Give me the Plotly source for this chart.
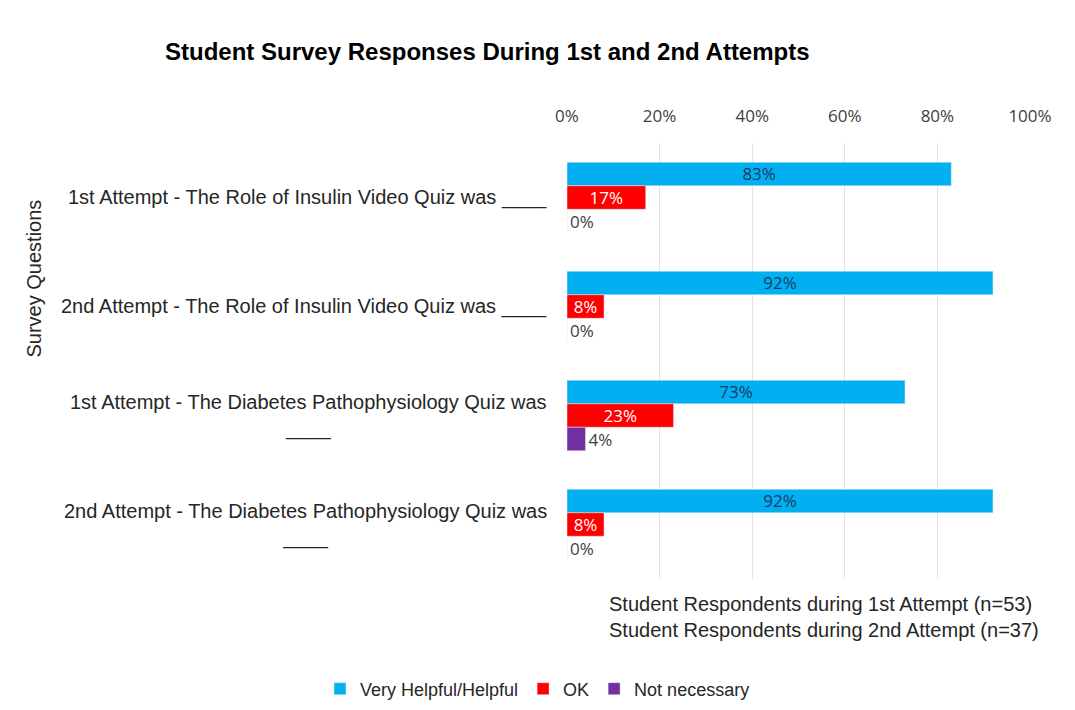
import plotly.graph_objects as go

categories = [
    "1st Attempt - The Role of Insulin Video Quiz was ____",
    "2nd Attempt - The Role of Insulin Video Quiz was ____",
    "1st Attempt - The Diabetes Pathophysiology Quiz was<br>____",
    "2nd Attempt - The Diabetes Pathophysiology Quiz was<br>____",
]
very_helpful = [0.83, 0.92, 0.73, 0.92]
ok = [0.17, 0.08, 0.23, 0.08]
not_necessary = [0.0, 0.0, 0.04, 0.0]
x_ticks = [0, 0.2, 0.4, 0.6, 0.8, 1.0]
x_tick_labels = ["0%", "20%", "40%", "60%", "80%", "100%"]

label_font = "Open Sans"
arial = "Liberation Sans, Arial"

fig = go.Figure()
fig.add_trace(go.Bar(
    y=categories, x=very_helpful, orientation="h", name="Very Helpful/Helpful",
    marker_color="#00B0F0", texttemplate="%{x:.0%}", textposition="inside",
    insidetextanchor="middle", constraintext="none",
    textfont=dict(family=label_font, size=17, color="#1F3864"),
))
fig.add_trace(go.Bar(
    y=categories, x=ok, orientation="h", name="OK",
    marker_color="#FF0000", texttemplate="%{x:.0%}", textposition="inside",
    insidetextanchor="middle", constraintext="none",
    textfont=dict(family=label_font, size=17, color="white"),
))
fig.add_trace(go.Bar(
    y=categories, x=not_necessary, orientation="h", name="Not necessary",
    marker_color="#7030A0", texttemplate="%{x:.0%}", textposition="outside",
    constraintext="none", cliponaxis=False,
    textfont=dict(family=label_font, size=17, color="#404040"),
))

annotations = []
for c in categories:
    annotations.append(dict(
        x=0, xref="paper", y=c, yref="y", text=c, showarrow=False,
        xanchor="right", yanchor="middle", align="center", xshift=-18,
        font=dict(family=arial, size=20, color="#262626"),
    ))
annotations.append(dict(
    x=(33 - 567) / 463, xref="paper", y=(578.5 - 278) / 436, yref="paper",
    text="Survey Questions", showarrow=False, textangle=-90,
    xanchor="center", yanchor="middle",
    font=dict(family=arial, size=20, color="#262626"),
))
annotations.append(dict(
    x=(607 - 567) / 463, xref="paper", y=-0.028, yref="paper",
    text="Student Respondents during 1st Attempt (n=53)<br>Student Respondents during 2nd Attempt (n=37)",
    showarrow=False, xanchor="left", yanchor="top", align="left",
    font=dict(family=arial, size=20, color="#262626"),
))

fig.update_layout(
    width=1075, height=710,
    margin=dict(l=567, r=45, t=143, b=131),
    paper_bgcolor="white", plot_bgcolor="white",
    barmode="group", bargap=0.353, bargroupgap=0,
    title=dict(text="<b>Student Survey Responses During 1st and 2nd Attempts</b>",
               x=165/1075, xanchor="left", y=1-52/710, yanchor="middle",
               font=dict(family=arial, size=24, color="black")),
    xaxis=dict(side="top", range=[0, 1.0], tickvals=x_ticks, ticktext=x_tick_labels,
               showgrid=True, gridcolor="#E3E3E3", zeroline=False, showline=False,
               ticklabelstandoff=17,
               tickfont=dict(family=label_font, size=17, color="#404040")),
    yaxis=dict(autorange="reversed", showticklabels=False, showgrid=False,
               zeroline=False, showline=False),
    legend=dict(orientation="h", x=0.5, xanchor="center", xref="container",
                y=1-689/710, yref="container", yanchor="middle", traceorder="normal",
                itemwidth=30, tracegroupgap=0,
                font=dict(family=arial, size=18, color="#262626")),
    annotations=annotations,
    showlegend=True,
)

fig.write_html("out.html")
